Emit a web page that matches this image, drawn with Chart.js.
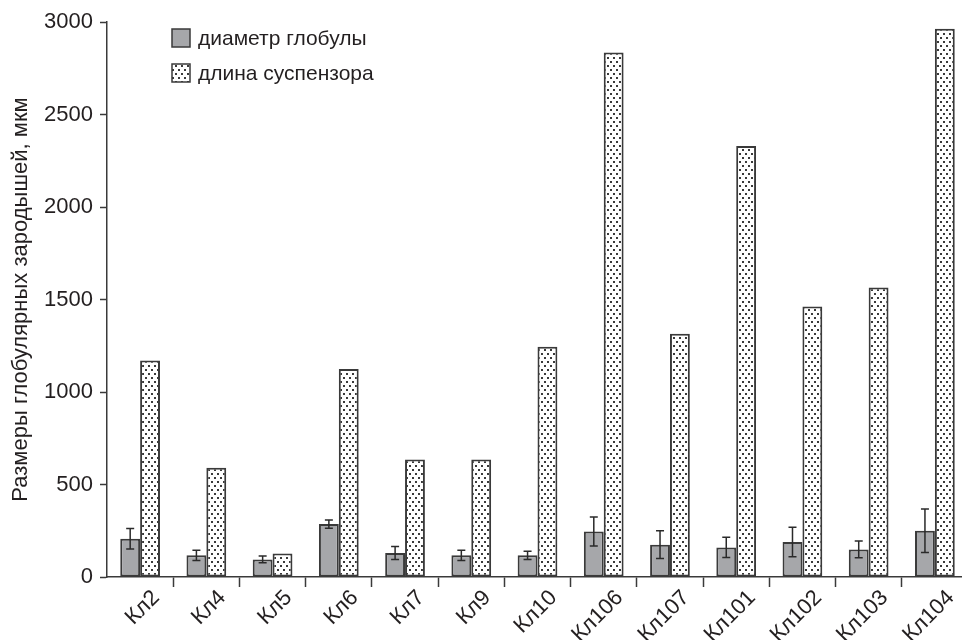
<!DOCTYPE html>
<html>
<head>
<meta charset="utf-8">
<script src="https://cdn.jsdelivr.net/npm/chart.js@4.4.1/dist/chart.umd.min.js"></script>
<style>
  html, body { margin: 0; padding: 0; background: #fff; overflow: hidden; }
  #wrap { width: 970px; height: 640px; }
</style>
</head>
<body>
<div id="wrap"><canvas id="chart"></canvas></div>
<script>
const categories = ['Кл2', 'Кл4', 'Кл5', 'Кл6', 'Кл7', 'Кл9', 'Кл10', 'Кл106', 'Кл107', 'Кл101', 'Кл102', 'Кл103', 'Кл104'];
const globuleDiameter = [207, 117, 95, 286, 130, 117, 117, 246, 175, 160, 189, 149, 250];
const globuleError = [55, 28, 18, 22, 35, 28, 22, 78, 75, 55, 80, 45, 117];
const suspensorLength = [1170, 590, 127, 1125, 635, 635, 1245, 2835, 1315, 2330, 1462, 1565, 2963];
const yTicks = [0, 500, 1000, 1500, 2000, 2500, 3000];

const FONT = '"Liberation Sans", Arial, sans-serif';
const INK = '#231f20';
const EDGE = '#3a3a3a';
const GREY = '#a6a7aa';

// dotted fill like the printed figure
function dotPattern() {
  const c = document.createElement('canvas');
  c.width = 6;
  c.height = 8;
  const g = c.getContext('2d');
  g.fillStyle = '#fff';
  g.fillRect(0, 0, 6, 8);
  g.fillStyle = '#3a3a3a';
  g.fillRect(1, 1, 2, 2);
  g.fillRect(4, 5, 2, 2);
  return g.createPattern(c, 'repeat');
}
const dots = dotPattern();

const errorBars = {
  id: 'errorBars',
  afterDatasetsDraw(chart) {
    const ctx = chart.ctx;
    const y = chart.scales.y;
    const meta = chart.getDatasetMeta(0);
    ctx.save();
    ctx.strokeStyle = '#2a2a2a';
    ctx.lineWidth = 1.5;
    meta.data.forEach((bar, i) => {
      const v = globuleDiameter[i], e = globuleError[i];
      const top = y.getPixelForValue(v + e);
      const bot = y.getPixelForValue(v - e);
      ctx.beginPath();
      ctx.moveTo(bar.x, top); ctx.lineTo(bar.x, bot);
      ctx.moveTo(bar.x - 4, top); ctx.lineTo(bar.x + 4, top);
      ctx.moveTo(bar.x - 4, bot); ctx.lineTo(bar.x + 4, bot);
      ctx.stroke();
    });
    ctx.restore();
  }
};

const boxLegend = {
  id: 'boxLegend',
  afterDraw(chart) {
    const ctx = chart.ctx;
    ctx.save();
    ctx.font = '21px ' + FONT;
    ctx.textBaseline = 'middle';
    ctx.textAlign = 'left';
    chart.data.datasets.forEach((ds, i) => {
      const top = 29 + i * 35;
      ctx.fillStyle = ds.backgroundColor;
      ctx.fillRect(172, top, 18, 18);
      ctx.strokeStyle = EDGE;
      ctx.lineWidth = 1.5;
      ctx.strokeRect(172, top, 18, 18);
      ctx.fillStyle = INK;
      ctx.fillText(ds.label, 198, top + 10);
    });
    ctx.restore();
  }
};

new Chart(document.getElementById('chart'), {
  type: 'bar',
  data: {
    labels: categories,
    datasets: [
      {
        label: 'диаметр глобулы',
        data: globuleDiameter,
        backgroundColor: GREY,
        borderColor: EDGE,
        borderWidth: 2,
        borderSkipped: false
      },
      {
        label: 'длина суспензора',
        data: suspensorLength,
        backgroundColor: dots,
        borderColor: EDGE,
        borderWidth: 2,
        borderSkipped: false
      }
    ]
  },
  options: {
    responsive: true,
    maintainAspectRatio: false,
    animation: false,
    datasets: { bar: { categoryPercentage: 0.6, barPercentage: 1 } },
    layout: { padding: { top: 22, right: 2, left: 0, bottom: 0 } },
    plugins: {
      legend: { display: false },
      tooltip: { enabled: false }
    },
    scales: {
      x: {
        afterFit(scale) { scale.height = 63; },
        grid: {
          offset: true,
          drawOnChartArea: false,
          tickLength: 10,
          tickWidth: 1.5,
          tickColor: (c) => (c.index === 0 ? 'rgba(0,0,0,0)' : EDGE)
        },
        border: { color: EDGE, width: 1.5 },
        ticks: {
          color: INK,
          font: { family: FONT, size: 22 },
          minRotation: 45,
          maxRotation: 45,
          labelOffset: 16,
          padding: -2
        }
      },
      y: {
        min: 0,
        max: 3000,
        afterFit(scale) { scale.width = 107; },
        afterBuildTicks(scale) { scale.ticks = yTicks.map(v => ({ value: v })); },
        grid: {
          drawOnChartArea: false,
          tickLength: 7,
          tickWidth: 1.5,
          tickColor: EDGE
        },
        border: { color: EDGE, width: 1.5 },
        ticks: {
          color: INK,
          font: { family: FONT, size: 22 },
          padding: 7,
          callback: (v) => String(v)
        },
        title: {
          display: true,
          text: 'Размеры глобулярных зародышей, мкм',
          color: INK,
          font: { family: FONT, size: 22 },
          padding: { top: 8, bottom: 0 }
        }
      }
    }
  },
  plugins: [errorBars, boxLegend]
});
</script>
</body>
</html>
